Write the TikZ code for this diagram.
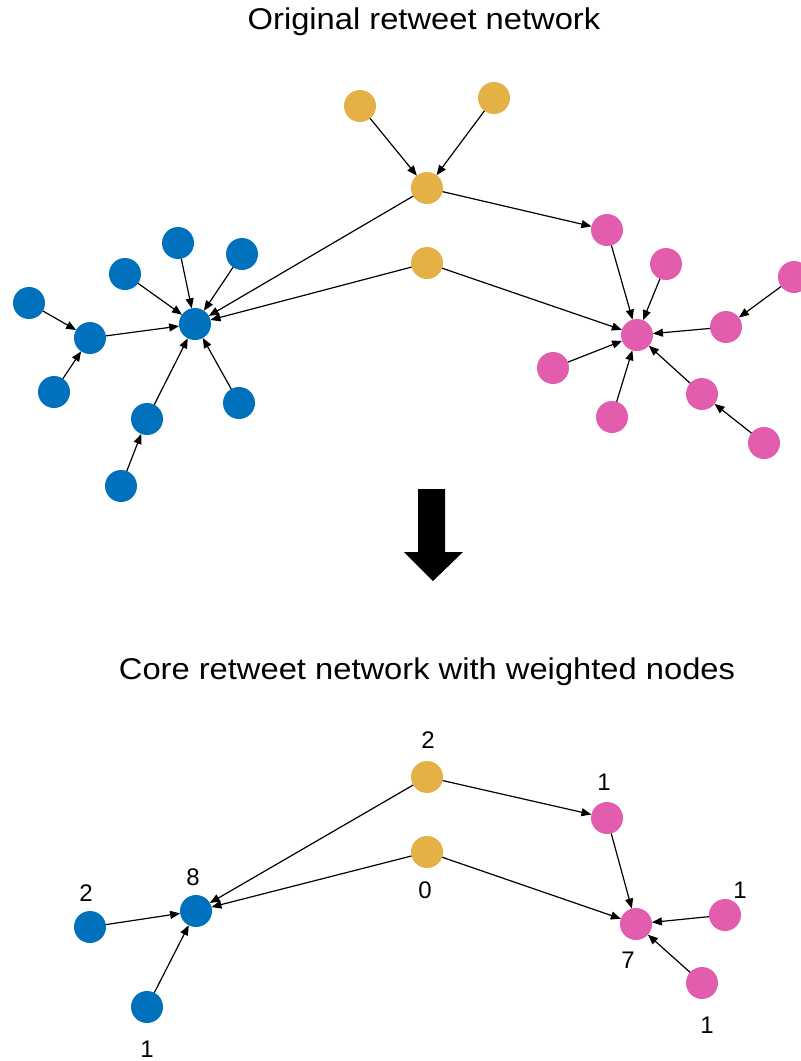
\documentclass[tikz,border=0pt]{standalone}
\usepackage{fontspec}
\setmainfont{Liberation Sans}
\usetikzlibrary{arrows.meta}
\definecolor{cblue}{RGB}{0,114,189}
\definecolor{corange}{RGB}{229,176,70}
\definecolor{cpink}{RGB}{227,93,174}
\tikzset{
  vtx/.style={circle,minimum size=32pt,inner sep=0pt,outer sep=0pt,draw=none},
  bl/.style={vtx,fill=cblue},
  og/.style={vtx,fill=corange},
  pk/.style={vtx,fill=cpink},
  edge/.style={line width=1.2pt,-{Triangle[length=10pt,width=8pt]}},
  ttl/.style={font=\fontsize{30}{36}\selectfont,inner sep=0pt},
  num/.style={font=\fontsize{24}{28}\selectfont,inner sep=0pt}
}
\begin{document}
\begin{tikzpicture}[x=1pt,y=-1pt]
\useasboundingbox (0,0) rectangle (801,1061);
% titles
\node[ttl] (t1) at (424,22) {\scalebox{1.09}[1]{Original retweet network}};
\node[ttl] (t2) at (427,672) {\scalebox{1.09}[1]{Core retweet network with weighted nodes}};
% top network
\node[og] (o1) at (360,106) {};
\node[og] (o2) at (494,98) {};
\node[og] (o3) at (427,188) {};
\node[og] (o4) at (427,263) {};
\node[bl] (bc) at (195,324) {};
\node[bl] (b1) at (178,243) {};
\node[bl] (b2) at (242,254) {};
\node[bl] (b3) at (125,274) {};
\node[bl] (b4) at (29,303) {};
\node[bl] (b5) at (90,338) {};
\node[bl] (b6) at (54,392) {};
\node[bl] (b7) at (147,419) {};
\node[bl] (b8) at (239,403) {};
\node[bl] (b9) at (121,486) {};
\node[pk] (pc) at (637,335) {};
\node[pk] (p1) at (607,230) {};
\node[pk] (p2) at (666,264) {};
\node[pk] (p3) at (794,277) {};
\node[pk] (p4) at (726,327) {};
\node[pk] (p5) at (553,368) {};
\node[pk] (p6) at (702,394) {};
\node[pk] (p7) at (612,417) {};
\node[pk] (p8) at (764,443) {};
\draw[edge] (o1) -- (o3);
\draw[edge] (o2) -- (o3);
\draw[edge] (o3) -- (p1);
\draw[edge] (o3) -- (bc);
\draw[edge] (o4) -- (bc);
\draw[edge] (o4) -- (pc);
\foreach \s in {b1,b2,b3,b5,b7,b8} \draw[edge] (\s) -- (bc);
\draw[edge] (b4) -- (b5);
\draw[edge] (b6) -- (b5);
\draw[edge] (b9) -- (b7);
\foreach \s in {p1,p2,p4,p5,p6,p7} \draw[edge] (\s) -- (pc);
\draw[edge] (p3) -- (p4);
\draw[edge] (p8) -- (p6);
% big arrow
\fill[black] (418,489) -- (445,489) -- (445,552) -- (463,552) -- (433,581) -- (404,552) -- (418,552) -- cycle;
% bottom network
\node[og] (q1) at (427,777) {};
\node[og] (q2) at (427,852) {};
\node[bl] (qc) at (196,911) {};
\node[bl] (qb1) at (90,927) {};
\node[bl] (qb2) at (147,1007) {};
\node[pk] (qp1) at (607,818) {};
\node[pk] (qpc) at (636,924) {};
\node[pk] (qp2) at (725,915) {};
\node[pk] (qp3) at (702,983) {};
\draw[edge] (q1) -- (qp1);
\draw[edge] (q1) -- (qc);
\draw[edge] (q2) -- (qc);
\draw[edge] (q2) -- (qpc);
\draw[edge] (qb1) -- (qc);
\draw[edge] (qb2) -- (qc);
\draw[edge] (qp1) -- (qpc);
\draw[edge] (qp2) -- (qpc);
\draw[edge] (qp3) -- (qpc);
% weights
\node[num] (w1) at (428,740) {2};
\node[num] (w2) at (425,890) {0};
\node[num] (w3) at (193,877) {8};
\node[num] (w4) at (86,893) {2};
\node[num] (w5) at (147,1049) {1};
\node[num] (w6) at (604,782) {1};
\node[num] (w7) at (628,960) {7};
\node[num] (w8) at (740,890) {1};
\node[num] (w9) at (707,1025) {1};
\end{tikzpicture}
\end{document}
